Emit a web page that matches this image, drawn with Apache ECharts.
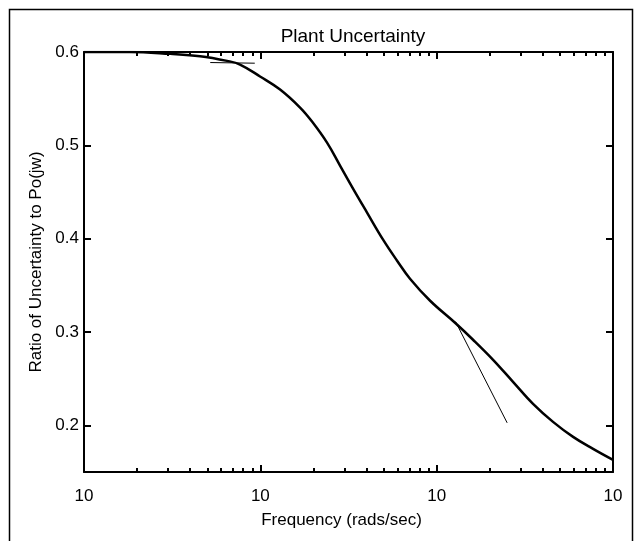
<!DOCTYPE html>
<html>
<head>
<meta charset="utf-8">
<script src="https://cdn.jsdelivr.net/npm/echarts@6/dist/echarts.min.js"></script>
<style>html,body{margin:0;padding:0;background:#fff;}#c{width:637px;height:541px;}</style>
</head>
<body>
<div id="c"></div>
<script>
// Main curve: frequency (rads/sec) and ratio
const freq = [0.1, 0.182, 0.308, 0.455, 0.648, 0.767, 0.996, 1.294, 1.68, 1.964, 2.389, 2.831, 3.355, 4.029, 4.966, 5.963, 7.06, 9.18, 12.71, 16.08, 20.89, 27.1, 35.2, 45.7, 59.4, 77.1, 100];
const ratio = [0.600, 0.600, 0.598, 0.5955, 0.5905, 0.5866, 0.5738, 0.5598, 0.5405, 0.5255, 0.5029, 0.4783, 0.4536, 0.4279, 0.3989, 0.3764, 0.3571, 0.3335, 0.3099, 0.2917, 0.2702, 0.2466, 0.2230, 0.2037, 0.1876, 0.1747, 0.1629];
// thin asymptote lines
const lineAFreq = [12.8, 25.1];
const lineAVal = [0.311, 0.2027];
const lineBFreq = [0.52, 0.93];
const lineBVal = [0.5887, 0.588];
// ticks
const xMajorTicks = [0.1, 1, 10, 100];
const xMinorTicks = [0.2,0.3,0.4,0.5,0.6,0.7,0.8,0.9, 2,3,4,5,6,7,8,9, 20,30,40,50,60,70,80,90];
const yTicks = [0.2, 0.3, 0.4, 0.5, 0.6];
const xLabelText = '10';

const FONT = 'Liberation Sans, Arial, sans-serif';
const pair = (a, b) => a.map((v, i) => [v, b[i]]);

const baseX = {type: 'log', logBase: 10, min: 0.1, max: 100, splitLine: {show: false}};
const chart = echarts.init(document.getElementById('c'));
chart.setOption({
  animation: false,
  backgroundColor: '#fff',
  title: {
    text: 'Plant Uncertainty', left: 348, top: 22, textAlign: 'center',
    textStyle: {fontFamily: FONT, fontSize: 19, fontWeight: 'normal', color: '#000'}
  },
  grid: {left: 84, right: 24, top: 52, bottom: 69},
  xAxis: [
    Object.assign({}, baseX, {
      position: 'bottom',
      name: 'Frequency (rads/sec)', nameLocation: 'middle', nameGap: 40,
      nameTextStyle: {fontFamily: FONT, fontSize: 17, color: '#000', padding: [0, 14, 0, 0]},
      axisLine: {show: true, lineStyle: {color: '#000', width: 2}},
      axisTick: {show: true, inside: true, length: 7, customValues: xMajorTicks, lineStyle: {color: '#000', width: 2}},
      axisLabel: {show: true, customValues: xMajorTicks, margin: 16, formatter: () => xLabelText,
        fontFamily: FONT, fontSize: 17, color: '#000'}
    }),
    Object.assign({}, baseX, {
      position: 'bottom',
      axisLine: {show: false},
      axisTick: {show: true, inside: true, length: 4, customValues: xMinorTicks, lineStyle: {color: '#000', width: 2}},
      axisLabel: {show: false}
    }),
    Object.assign({}, baseX, {
      position: 'top',
      axisLine: {show: true, lineStyle: {color: '#000', width: 2}},
      axisTick: {show: true, inside: true, length: 7, customValues: xMajorTicks, lineStyle: {color: '#000', width: 2}},
      axisLabel: {show: false}
    }),
    Object.assign({}, baseX, {
      position: 'top',
      axisLine: {show: false},
      axisTick: {show: true, inside: true, length: 4, customValues: xMinorTicks, lineStyle: {color: '#000', width: 2}},
      axisLabel: {show: false}
    })
  ],
  yAxis: [
    {
      type: 'value', min: 0.15, max: 0.6, position: 'left',
      name: 'Ratio of Uncertainty to Po(jw)', nameLocation: 'middle', nameGap: 39,
      nameTextStyle: {fontFamily: FONT, fontSize: 17, color: '#000'},
      splitLine: {show: false},
      axisLine: {show: true, lineStyle: {color: '#000', width: 2}},
      axisTick: {show: true, inside: true, length: 7, customValues: yTicks, lineStyle: {color: '#000', width: 2}},
      axisLabel: {show: true, customValues: yTicks, margin: 5, formatter: v => v.toFixed(1),
        fontFamily: FONT, fontSize: 17, color: '#000'}
    },
    {
      type: 'value', min: 0.15, max: 0.6, position: 'right',
      splitLine: {show: false},
      axisLine: {show: true, lineStyle: {color: '#000', width: 2}},
      axisTick: {show: true, inside: true, length: 7, customValues: yTicks, lineStyle: {color: '#000', width: 2}},
      axisLabel: {show: false}
    }
  ],
  graphic: [
    {type: 'rect', silent: true, shape: {x: 9.5, y: 9.5, width: 623, height: 600},
     style: {fill: 'none', stroke: '#000', lineWidth: 1.5}}
  ],
  series: [
    {type: 'line', xAxisIndex: 0, yAxisIndex: 0, data: pair(freq, ratio), smooth: 0.4, symbol: 'none',
     lineStyle: {color: '#000', width: 2.5}},
    {type: 'line', xAxisIndex: 0, yAxisIndex: 0, data: pair(lineAFreq, lineAVal), symbol: 'none',
     lineStyle: {color: '#000', width: 1}},
    {type: 'line', xAxisIndex: 0, yAxisIndex: 0, data: pair(lineBFreq, lineBVal), symbol: 'none',
     lineStyle: {color: '#000', width: 1}}
  ]
});
</script>
</body>
</html>
